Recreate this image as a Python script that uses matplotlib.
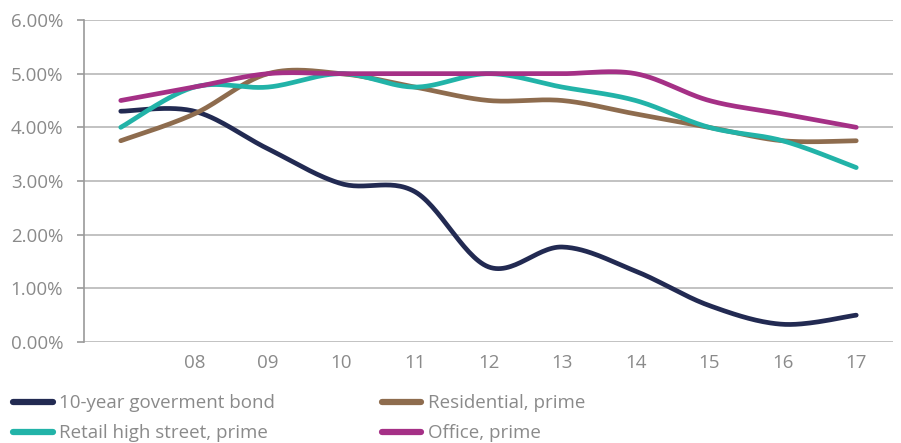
import numpy as np
import matplotlib
matplotlib.use("Agg")
import matplotlib.pyplot as plt
from matplotlib.ticker import FuncFormatter

# Yields by year (percent)
years = ["", "08", "09", "10", "11", "12", "13", "14", "15", "16", "17"]
bond = [4.30, 4.30, 3.60, 2.95, 2.80, 1.40, 1.77, 1.32, 0.68, 0.33, 0.50]
residential = [3.75, 4.25, 5.00, 5.00, 4.75, 4.50, 4.50, 4.25, 4.00, 3.75, 3.75]
retail = [4.00, 4.75, 4.75, 5.00, 4.75, 5.00, 4.75, 4.50, 4.00, 3.75, 3.25]
office = [4.50, 4.75, 5.00, 5.00, 5.00, 5.00, 5.00, 5.00, 4.50, 4.25, 4.00]

series = [
    ("10-year goverment bond", bond, "#222a52"),
    ("Residential, prime", residential, "#8e6c4e"),
    ("Retail high street, prime", retail, "#22b3a8"),
    ("Office, prime", office, "#a53086"),
]

TEXT = "#8a8a8a"
FONT = "Open Sans"


def smooth(x, y, n=30):
    """Catmull-Rom style smoothed path through every point (spreadsheet 'smooth line')."""
    x = np.asarray(x, float)
    y = np.asarray(y, float)
    px = np.concatenate([[x[0]], x, [x[-1]]])
    py = np.concatenate([[y[0]], y, [y[-1]]])
    xs, ys = [], []
    t = np.linspace(0, 1, n, endpoint=False)
    for i in range(1, len(px) - 2):
        p0 = np.array([px[i - 1], py[i - 1]])
        p1 = np.array([px[i], py[i]])
        p2 = np.array([px[i + 1], py[i + 1]])
        p3 = np.array([px[i + 2], py[i + 2]])
        c1 = p1 + (p2 - p0) / 6.0
        c2 = p2 - (p3 - p1) / 6.0
        for tt in t:
            b = ((1 - tt) ** 3) * p1 + 3 * ((1 - tt) ** 2) * tt * c1 \
                + 3 * (1 - tt) * tt ** 2 * c2 + tt ** 3 * p2
            xs.append(b[0])
            ys.append(b[1])
    xs.append(x[-1])
    ys.append(y[-1])
    return np.array(xs), np.array(ys)


fig = plt.figure(figsize=(9.01, 4.43), dpi=100)
W, H = 901, 443
ax = fig.add_axes([84 / W, 1 - 342 / H, (893 - 84) / W, (342 - 20) / H])

xi = np.arange(len(years))
lines = {}
for label, vals, color in series:
    sx, sy = smooth(xi, vals)
    lines[label], = ax.plot(sx, sy, color=color, lw=3.4, solid_capstyle="round",
                            label=label, zorder=3)

ax.set_xlim(-0.5, len(years) - 0.5)
ax.set_ylim(0, 6)
ax.set_yticks(np.arange(0, 6.01, 1))
ax.yaxis.set_major_formatter(FuncFormatter(lambda v, p: f"{v:.2f}%"))
ax.set_xticks(xi)
ax.set_xticklabels(years)

ax.grid(axis="y", color="#bdbdbd", lw=1.3, zorder=0)
for s in ["top", "right", "bottom"]:
    ax.spines[s].set_visible(False)
ax.spines["left"].set_color("#9a9a9a")
ax.spines["left"].set_linewidth(1.2)

ax.tick_params(axis="y", length=5, width=1.2, color="#9a9a9a",
               labelsize=13.5, labelcolor=TEXT, pad=10)
ax.tick_params(axis="x", length=0, labelsize=13.5, labelcolor=TEXT, pad=9)
for lbl in ax.get_xticklabels() + ax.get_yticklabels():
    lbl.set_fontfamily(FONT)

# legend fills column-wise: bond/retail in column 1, residential/office in column 2
order = ["10-year goverment bond", "Retail high street, prime",
         "Residential, prime", "Office, prime"]
leg = fig.legend([lines[k] for k in order], order,
                 loc="upper left", bbox_to_anchor=(0.0, 1 - 381 / H), ncol=2,
                 frameon=False, handlelength=2.1, handletextpad=0.35,
                 columnspacing=5.7, labelspacing=0.65, borderaxespad=0.3,
                 prop={"family": FONT, "size": 13.5})
for t in leg.get_texts():
    t.set_color(TEXT)
for h in leg.get_lines():
    h.set_linewidth(4.5)
    h.set_solid_capstyle("round")

fig.savefig("out.png", dpi=100, facecolor="white")
